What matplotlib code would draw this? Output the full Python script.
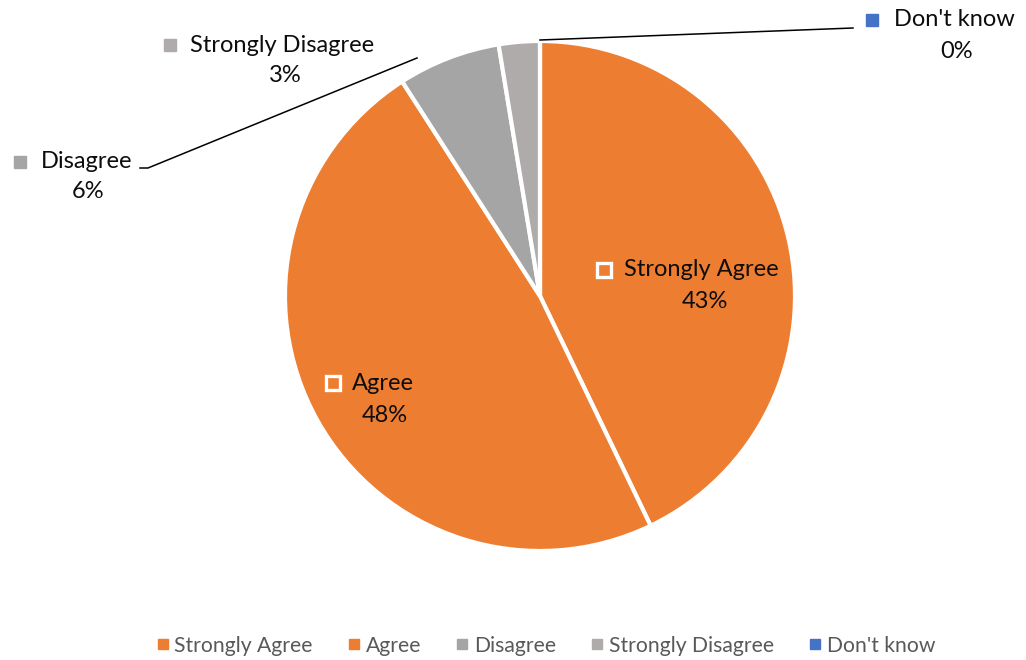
import matplotlib
matplotlib.use('Agg')
import matplotlib.pyplot as plt
from matplotlib.lines import Line2D

plt.rcParams['font.family'] = ['Lato', 'DejaVu Sans']

categories = ['Strongly Agree', 'Agree', 'Disagree', 'Strongly Disagree', "Don't know"]
counts = [33, 37, 5, 2, 0]
colors = ['#ED7D31', '#ED7D31', '#A5A5A5', '#AFABAB', '#4472C4']

W, H = 1026, 660
fig = plt.figure(figsize=(W / 100, H / 100), dpi=100)
ax = fig.add_axes([0, 0, 1, 1])

cx, cy, r = 540, H - 296, 255
wedges, _ = ax.pie(counts, colors=colors, startangle=90, counterclock=False,
                   center=(cx, cy), radius=r, frame=True,
                   wedgeprops=dict(edgecolor='white', linewidth=3))
ax.set_xlim(0, W)
ax.set_ylim(0, H)
ax.set_aspect('equal')
ax.axis('off')

total = sum(counts)
pcts = ['%d%%' % round(100 * c / total) for c in counts]

# label layout: (marker x, name x, name y, pct x, pct y, inside)
label_pos = [
    (604, 624, 270, 705, 301, True),
    (333, 352, 383, 385, 415, True),
    (20, 41, 162, 88, 192, False),
    (170, 190, 45, 285, 76, False),
    (872, 894, 20, 957, 52, False),
]
fs = 17
for i, (mx, tx, ty, px, py, inside) in enumerate(label_pos):
    if inside:
        ax.plot(mx, H - ty, marker='s', ms=9.5, mfc=colors[i], mec='white', mew=2.4, ls='')
    else:
        ax.plot(mx, H - ty, marker='s', ms=8, mfc=colors[i], mec=colors[i], ls='')
    ax.text(tx, H - ty, categories[i], fontsize=fs, ha='left', va='center', color='#0D0D0D')
    ax.text(px, H - py, pcts[i], fontsize=fs, ha='center', va='center', color='#0D0D0D')

# leader lines
ax.plot([140, 148, 417], [H - 168, H - 168, H - 58], color='black', lw=1.1)
ax.plot([540, 853], [H - 40, H - 28], color='black', lw=1.1)

handles = [Line2D([], [], marker='s', ls='', ms=7, mfc=c, mec=c) for c in colors]
fig.legend(handles, categories, loc='lower center', bbox_to_anchor=(0.53, -0.022),
           ncol=5, frameon=False, fontsize=15.2, handletextpad=0.05,
           columnspacing=1.45, labelcolor='#595959', handlelength=1.0)

fig.savefig('out.png', dpi=100)
